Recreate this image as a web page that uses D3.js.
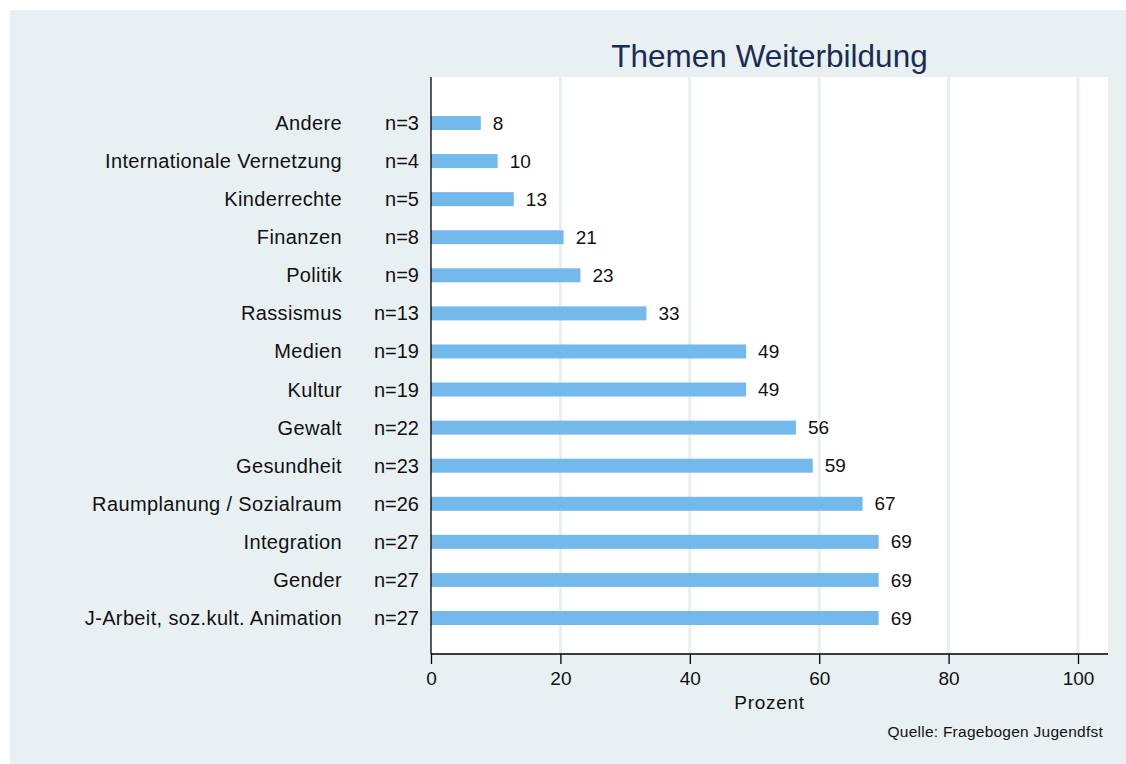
<!DOCTYPE html>
<html>
<head>
<meta charset="utf-8">
<script src="https://cdn.jsdelivr.net/npm/d3@7"></script>
<style>
  body { margin: 0; background: #fff; }
  text { font-family: "Liberation Sans", Arial, Helvetica, sans-serif; }
</style>
</head>
<body>
<svg id="chart"></svg>
<script>
// Categories, top to bottom
const categories = ['Andere', 'Internationale Vernetzung', 'Kinderrechte', 'Finanzen', 'Politik',
    'Rassismus', 'Medien', 'Kultur', 'Gewalt', 'Gesundheit', 'Raumplanung / Sozialraum',
    'Integration', 'Gender', 'J-Arbeit, soz.kult. Animation'];
const counts = [3, 4, 5, 8, 9, 13, 19, 19, 22, 23, 26, 27, 27, 27];
const percents = [7.7, 10.3, 12.8, 20.5, 23.1, 33.3, 48.7, 48.7, 56.4, 59.0, 66.7, 69.2, 69.2, 69.2];
const valueLabels = ['8', '10', '13', '21', '23', '33', '49', '49', '56', '59', '67', '69', '69', '69'];
const xTicks = [0, 20, 40, 60, 80, 100];

const width = 1126;
const height = 764;

let svg = d3.select('#chart')
    .attr('width', width)
    .attr('height', height);

// Outer background
svg.append('rect')
    .attr('x', 10).attr('y', 10)
    .attr('width', width - 10).attr('height', height - 10)
    .attr('fill', '#e8f0f2');

// Plot area
const plotLeft = 431, plotRight = 1108, plotTop = 77, plotBottom = 654;

svg.append('rect')
    .attr('x', plotLeft).attr('y', plotTop)
    .attr('width', plotRight - plotLeft).attr('height', plotBottom - plotTop)
    .attr('fill', '#ffffff');

let x = d3.scaleLinear().domain([0, 100]).range([plotLeft, 1078]);
let y = d3.scalePoint().domain(categories).range([123, 618]);

// Grid lines
svg.selectAll('.grid')
    .data(xTicks.filter(d => d > 0))
    .enter()
    .append('line')
    .attr('x1', d => x(d)).attr('x2', d => x(d))
    .attr('y1', plotTop).attr('y2', plotBottom)
    .attr('stroke', '#e6eff2')
    .attr('stroke-width', 3);

// Bars
const barH = 14;
svg.selectAll('.bar')
    .data(categories)
    .enter()
    .append('rect')
    .attr('x', x(0))
    .attr('y', d => y(d) - barH / 2)
    .attr('width', (d, i) => x(percents[i]) - x(0))
    .attr('height', barH)
    .attr('fill', '#74b9ec');

// Value labels
svg.selectAll('.val')
    .data(categories)
    .enter()
    .append('text')
    .attr('x', (d, i) => x(percents[i]) + 12)
    .attr('y', d => y(d))
    .attr('dy', '0.35em')
    .attr('font-size', 19)
    .attr('fill', '#111')
    .text((d, i) => valueLabels[i]);

// Category labels
svg.selectAll('.cat')
    .data(categories)
    .enter()
    .append('text')
    .attr('x', 342)
    .attr('y', d => y(d))
    .attr('dy', '0.35em')
    .attr('text-anchor', 'end')
    .attr('font-size', 20)
    .attr('letter-spacing', 0.36)
    .attr('fill', '#111')
    .text(d => d);

// n labels
svg.selectAll('.n')
    .data(categories)
    .enter()
    .append('text')
    .attr('x', 419)
    .attr('y', d => y(d))
    .attr('dy', '0.35em')
    .attr('text-anchor', 'end')
    .attr('font-size', 20)
    .attr('fill', '#111')
    .text((d, i) => 'n=' + counts[i]);

// Left axis line
svg.append('line')
    .attr('x1', plotLeft).attr('x2', plotLeft)
    .attr('y1', plotTop).attr('y2', plotBottom)
    .attr('stroke', '#000').attr('stroke-width', 1.3);

// Bottom axis
let xAxis = svg.append('g')
    .attr('transform', 'translate(0,' + plotBottom + ')')
    .call(d3.axisBottom(x).tickValues(xTicks).tickSize(10).tickPadding(8).tickSizeOuter(0));
xAxis.select('.domain')
    .attr('d', 'M' + plotLeft + ',0H' + plotRight)
    .attr('stroke-width', 1.3);
xAxis.selectAll('.tick line').attr('stroke-width', 1.3);
xAxis.selectAll('.tick text')
    .attr('font-size', 19)
    .attr('font-family', '"Liberation Sans", Arial, sans-serif')
    .attr('fill', '#111');

// Axis title
svg.append('text')
    .attr('x', (plotLeft + plotRight) / 2)
    .attr('y', 709)
    .attr('text-anchor', 'middle')
    .attr('font-size', 19)
    .attr('letter-spacing', 0.7)
    .attr('fill', '#111')
    .text('Prozent');

// Title
svg.append('text')
    .attr('x', (plotLeft + plotRight) / 2)
    .attr('y', 67)
    .attr('text-anchor', 'middle')
    .attr('font-size', 31.5)
    .attr('fill', '#1b2b55')
    .text('Themen Weiterbildung');

// Source note
svg.append('text')
    .attr('x', 1103)
    .attr('y', 737)
    .attr('text-anchor', 'end')
    .attr('font-size', 15.5)
    .attr('letter-spacing', 0.25)
    .attr('fill', '#111')
    .text('Quelle: Fragebogen Jugendfst');
</script>
</body>
</html>
